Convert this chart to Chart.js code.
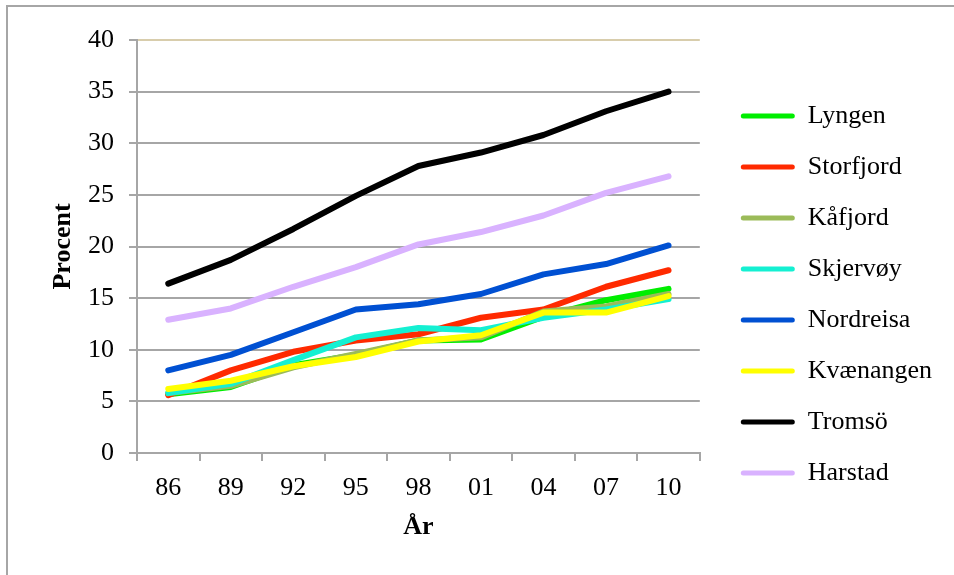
<!DOCTYPE html>
<html>
<head>
<meta charset="utf-8">
<script src="https://cdn.jsdelivr.net/npm/chart.js@4.4.1/dist/chart.umd.min.js"></script>
<style>
  body { margin: 0; background: #fff; }
  #frame { position: absolute; left: 6px; top: 5px; width: 1000px; height: 1000px; border-top: 2px solid #a6a6a6; border-left: 2px solid #a6a6a6; }
  #chart { position: absolute; left: 0; top: 0; }
</style>
</head>
<body>
<div id="frame"></div>
<canvas id="chart" width="954" height="575"></canvas>
<script>
// years on the x axis
const years = ['86', '89', '92', '95', '98', '01', '04', '07', '10'];

// percent per municipality
const lyngen     = [5.7, 6.4, 8.5, 9.5, 10.9, 11.0, 13.2, 14.8, 15.9];
const storfjord  = [5.6, 8.0, 9.8, 10.9, 11.5, 13.1, 13.9, 16.1, 17.7];
const kafjord    = [5.8, 6.5, 8.3, 9.6, 10.9, 11.2, 13.7, 14.2, 15.4];
const skjervoy   = [5.8, 6.7, 9.0, 11.2, 12.1, 11.9, 13.1, 13.9, 14.9];
const nordreisa  = [8.0, 9.5, 11.7, 13.9, 14.4, 15.4, 17.3, 18.3, 20.1];
const kvaenangen = [6.2, 7.0, 8.4, 9.3, 10.8, 11.4, 13.6, 13.6, 15.2];
const tromso     = [16.4, 18.7, 21.7, 24.9, 27.8, 29.1, 30.8, 33.1, 35.0];
const harstad    = [12.9, 14.0, 16.1, 18.0, 20.2, 21.4, 23.0, 25.2, 26.8];

const yTicks = [0, 5, 10, 15, 20, 25, 30, 35, 40];

const series = [
  ['Lyngen', lyngen, '#00ee00'],
  ['Storfjord', storfjord, '#ff2a00'],
  ['Kåfjord', kafjord, '#9bbb59'],
  ['Skjervøy', skjervoy, '#14f0d2'],
  ['Nordreisa', nordreisa, '#0050d2'],
  ['Kvænangen', kvaenangen, '#ffff00'],
  ['Tromsö', tromso, '#000000'],
  ['Harstad', harstad, '#d9b2ff']
];

const gridGray = '#a6a6a6';
const tan = '#d8cdac';
const serif = "'Liberation Serif', 'Times New Roman', serif";

// later series drawn on top, like the original
const datasets = series.map((s, i) => ({
  label: s[0],
  data: s[1],
  borderColor: s[2],
  backgroundColor: s[2],
  borderWidth: 6,
  pointRadius: 0,
  tension: 0,
  borderCapStyle: 'round',
  borderJoinStyle: 'round',
  order: series.length - i
}));

// nudge the legend a bit to the right of the plot
const legendShift = {
  id: 'legendShift',
  afterLayout(chart) {
    chart.legend.left += 16;
    chart.legend.right += 16;
  }
};

const ctx = document.getElementById('chart').getContext('2d');
const chart = new Chart(ctx, {
  type: 'line',
  data: { labels: years, datasets: datasets },
  plugins: [legendShift],
  options: {
    responsive: false,
    animation: false,
    layout: { padding: { top: 40, right: 28, bottom: 26, left: 0 } },
    plugins: {
      tooltip: { enabled: false },
      legend: {
        position: 'right',
        labels: {
          color: '#000',
          font: { family: serif, size: 26 },
          boxWidth: 54,
          boxHeight: 5,
          padding: 25,
          useBorderRadius: true,
          borderRadius: 2.5,
          sort: (a, b) => a.datasetIndex - b.datasetIndex,
          generateLabels(chart) {
            const items = Chart.defaults.plugins.legend.labels.generateLabels(chart);
            items.forEach(it => { it.fillStyle = it.strokeStyle; it.lineWidth = 0; });
            return items;
          }
        }
      }
    },
    scales: {
      x: {
        offset: true,
        afterFit(scale) { scale.height = 96; },
        grid: {
          offset: true,
          drawOnChartArea: true,
          color: c => c.index === years.length ? tan : 'rgba(0,0,0,0)',
          tickColor: gridGray,
          tickLength: 8,
          lineWidth: 2
        },
        border: { color: gridGray, width: 2 },
        ticks: { color: '#000', font: { family: serif, size: 26 }, padding: 12, maxRotation: 0 },
        title: { display: true, text: 'År', color: '#000', font: { family: serif, size: 26, weight: 'bold' }, padding: { top: 0, bottom: 6 } }
      },
      y: {
        min: 0,
        max: 40,
        afterFit(scale) { scale.width = 137; },
        afterBuildTicks(scale) { scale.ticks = yTicks.map(v => ({ value: v })); },
        grid: {
          color: c => c.tick && c.tick.value === 40 ? tan : gridGray,
          tickColor: gridGray,
          tickLength: 8,
          lineWidth: 2
        },
        border: { color: gridGray, width: 2 },
        ticks: { color: '#000', font: { family: serif, size: 26 }, padding: 15 },
        title: { display: true, text: 'Procent', color: '#000', font: { family: serif, size: 26, weight: 'bold' }, padding: { top: 48, bottom: 0 } }
      }
    }
  }
});
</script>
</body>
</html>
